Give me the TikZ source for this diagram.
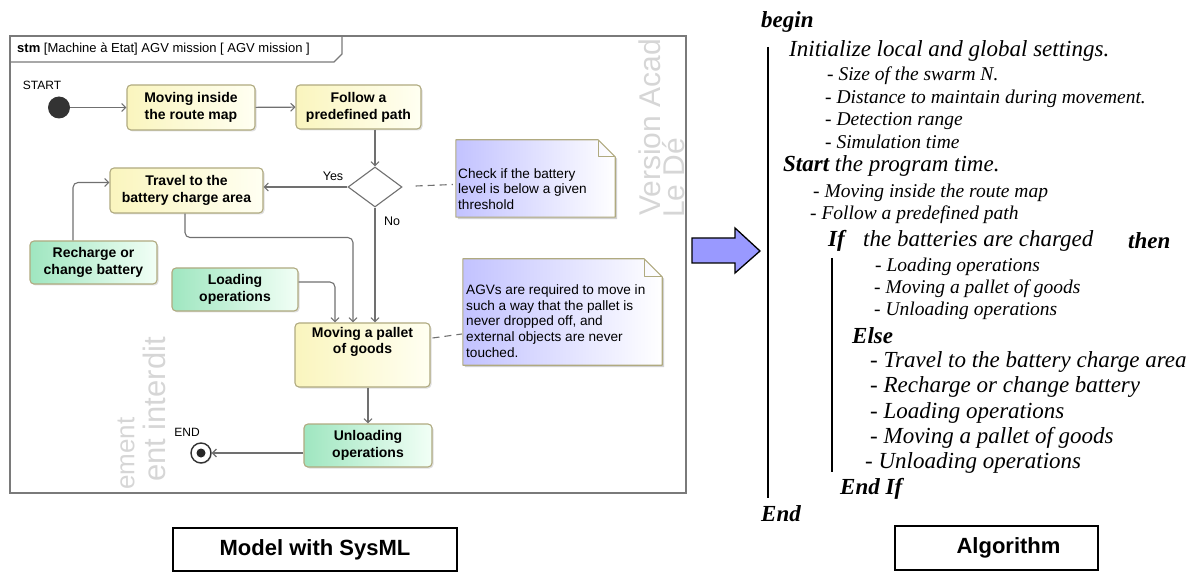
\documentclass[tikz,border=0pt]{standalone}
\usepackage{fontspec}
\setmainfont{Liberation Serif}
\newfontfamily\arial{Liberation Sans}
\usetikzlibrary{shapes.geometric,arrows.meta,calc,shadows}
\definecolor{yfillL}{HTML}{FAF5BE}
\definecolor{yfillR}{HTML}{FFFFF2}
\definecolor{gfillL}{HTML}{9FE6C0}
\definecolor{gfillR}{HTML}{F2FFF6}
\definecolor{nfillL}{HTML}{C2C2FF}
\definecolor{nfillR}{HTML}{FFFFFF}
\definecolor{bord}{HTML}{B0AA80}
\definecolor{conn}{HTML}{707070}
\definecolor{wmark}{HTML}{D6D6D6}
\definecolor{arrfill}{HTML}{9999FF}
\definecolor{framec}{HTML}{7A7A7A}
\begin{document}
\begin{tikzpicture}[x=1pt,y=-1pt,
 statebox/.style={draw=bord, line width=1.1pt, rounded corners=4pt, align=center, inner sep=0pt,
   font=\arial\bfseries\fontsize{14}{17}\selectfont,
   drop shadow={shadow xshift=1.5pt,shadow yshift=-1.5pt,opacity=0.25}},
 ybox/.style={statebox, left color=yfillL, right color=yfillR},
 gbox/.style={statebox, left color=gfillL, right color=gfillR},
 conn/.style={draw=conn, line width=1.1pt, rounded corners=5pt, -{Straight Barb[length=4pt,width=8pt]}},
 notel/.style={draw=conn, line width=1.1pt, dash pattern=on 7pt off 5pt},
 notetxt/.style={anchor=west, align=left, inner sep=0pt, font=\arial\fontsize{13.6}{15.8}\selectfont},
 lbl/.style={inner sep=0pt, font=\arial\fontsize{12.5}{14}\selectfont},
 wm/.style={inner sep=0pt, rotate=90, text=wmark, font=\arial\fontsize{30}{32}\selectfont},
 alg/.style={anchor=west, inner sep=0pt, font=\itshape\fontsize{23}{26}\selectfont},
 algs/.style={anchor=west, inner sep=0pt, font=\itshape\fontsize{19.5}{22}\selectfont},
 algb/.style={anchor=west, inner sep=0pt, font=\bfseries\itshape\fontsize{23}{26}\selectfont},
 capbox/.style={draw=black, line width=1.2pt, inner sep=0pt, font=\arial\bfseries\fontsize{22}{24}\selectfont}
]
\useasboundingbox (0,0) rectangle (1195,572);

% ---------- watermark (visible parts only) ----------
\node[wm, anchor=west] (wm1) at (650,216) {Version Acad};
\node[wm, anchor=west] (wm2) at (674,218) {Le Dé};
\node[wm, anchor=west, font=\arial\fontsize{26}{28}\selectfont] (wm3) at (126,490) {ement};
\node[wm, anchor=east, font=\arial\fontsize{31}{33}\selectfont] (wm4) at (154,337) {ent interdit};

% ---------- frame ----------
\draw[draw=framec, line width=1.3pt] (10,36) rectangle (686,493);
\draw[draw=framec, line width=1.1pt] (10,62) -- (334,62) -- (342,54) -- (342,36);
\node[anchor=west, inner sep=0pt, font=\arial\fontsize{13}{15}\selectfont] (title) at (17,49)
  {{\bfseries stm} [Machine à Etat] AGV mission [ AGV mission ]};

% ---------- states ----------
\node[circle, fill=black!80, minimum size=22pt, inner sep=0pt] (start) at (59,107.5) {};
\node[lbl, font=\arial\fontsize{12}{14}\selectfont] (startl) at (42,85) {START};

\node[ybox, minimum width=128pt, minimum height=45pt] (mov) at (191,107.5) {Moving inside\\the route map};
\node[ybox, minimum width=125pt, minimum height=44pt] (fol) at (358.5,107) {Follow a\\predefined path};
\node[diamond, draw=conn, line width=1.1pt, fill=white, minimum width=54pt, minimum height=40pt, inner sep=0pt] (dia) at (375,187) {};
\node[ybox, minimum width=153pt, minimum height=45pt] (tra) at (186.5,190.5) {Travel to the\\battery charge area};
\node[gbox, minimum width=127pt, minimum height=43pt] (rec) at (93.5,262.5) {Recharge or\\change battery};
\node[gbox, minimum width=126pt, minimum height=43pt] (loa) at (235,289.5) {Loading\\operations};
\node[ybox, minimum width=135pt, minimum height=64pt,
  label={[anchor=north, yshift=-5pt, align=center, inner sep=0pt, font=\arial\bfseries\fontsize{14}{16}\selectfont]north:Moving a pallet\\of goods}] (pal) at (362.5,355) {};
\node[gbox, minimum width=128pt, minimum height=43pt] (unl) at (368,445.5) {Unloading\\operations};
\node[circle, draw=black!80, line width=1.4pt, fill=white, minimum size=20pt, inner sep=0pt,
  drop shadow={shadow xshift=1pt,shadow yshift=-1pt,opacity=0.25}] (end) at (201,453) {};
\node[circle, fill=black!85, minimum size=9pt, inner sep=0pt] (endin) at (end) {};
\node[lbl, font=\arial\fontsize{12}{14}\selectfont] (endl) at (187,432) {END};

% ---------- notes ----------
\node[minimum width=159pt, minimum height=77pt, inner sep=0pt] (n1) at (535.5,178.5) {};
\node[minimum width=199pt, minimum height=106pt, inner sep=0pt] (n2) at (562.5,312) {};
\foreach \n/\f in {n1/17,n2/18}{
  \fill[black, opacity=0.18] ($(\n.north west)+(2,2)$) -- ($(\n.north east)+(2-\f,2)$) -- ($(\n.north east)+(2,2+\f)$) -- ($(\n.south east)+(2,2)$) -- ($(\n.south west)+(2,2)$) -- cycle;
  \shade[left color=nfillL, right color=nfillR] (\n.north west) -- ($(\n.north east)+(-\f,0)$) -- ($(\n.north east)+(0,\f)$) -- (\n.south east) -- (\n.south west) -- cycle;
  \draw[draw=bord, line width=1.1pt, line join=round] (\n.north west) -- ($(\n.north east)+(-\f,0)$) -- ($(\n.north east)+(0,\f)$) -- (\n.south east) -- (\n.south west) -- cycle;
  \draw[draw=bord, line width=1.1pt, line join=round] ($(\n.north east)+(-\f,0)$) -- ($(\n.north east)+(-\f,\f)$) -- ($(\n.north east)+(0,\f)$);
}
\node[notetxt] (n1t) at (458,189) {Check if the battery\\level is below a given\\threshold};
\node[notetxt] (n2t) at (466,321) {AGVs are required to move in\\such a way that the pallet is\\never dropped off, and\\external objects are never\\touched.};

% ---------- connectors ----------
\draw[conn] (start) -- (mov);
\draw[conn] (mov) -- (fol);
\draw[conn] (fol.south -| dia.north) -- (dia.north);
\draw[conn] (dia.west) -- (dia.west -| tra.east);
\node[lbl, anchor=south] (yes) at (333,181) {Yes};
\draw[conn] (dia.south) -- (dia.south |- pal.north);
\node[lbl, anchor=west] (no) at (384,221) {No};
\draw[conn] ($(rec.north)+(-20.5,0)$) |- ($(tra.west)+(0,-8)$);
\draw[conn] ($(tra.south)+(-1.5,0)$) -- ++(0,24) -| ($(pal.north)+(-9.5,0)$);
\draw[conn] ($(loa.east)+(0,-7.5)$) -| ($(pal.north)+(-27.5,0)$);
\draw[conn] (pal.south -| unl.north) -- (unl.north);
\draw[conn] (unl.west |- end.east) -- (end.east);
\draw[notel] ($(dia.east)+(13,-1)$) -- ($(n1.west)+(-3,6)$);
\draw[notel] ($(pal.east)+(2,-17)$) -- ($(n2.west)+(-1,22)$);

\node[capbox, minimum width=284pt, minimum height=43pt] (capL) at (315,549.5) {Model with SysML};

% ---------- big arrow ----------
\draw[line width=1.3pt, fill=arrfill, line join=miter] (692,238) -- (735,238) -- (735,228) -- (760,251) -- (735,273) -- (735,263) -- (692,263) -- cycle;

% ---------- algorithm ----------
\coordinate (v1a) at (768,47); \coordinate (v1b) at (768,498);
\coordinate (v2a) at (832,258); \coordinate (v2b) at (832,472);
\draw[line width=1.3pt] (v1a) -- (v1b);
\draw[line width=1.3pt] (v2a) -- (v2b);
\node[algb] (a1) at (761,22) {begin};
\node[alg] (a2) at (789,51) {Initialize local and global settings.};
\node[algs] (a3) at (827,76) {- Size of the swarm N.};
\node[algs] (a4) at (825,99) {- Distance to maintain during movement.};
\node[algs] (a5) at (825,121) {- Detection range};
\node[algs] (a6) at (825,142) {- Simulation time};
\node[alg] (a7) at (783,166) {{\bfseries Start} the program time.};
\node[algs] (a8) at (813,193) {- Moving inside the route map};
\node[algs] (a9) at (810,215) {- Follow a predefined path};
\node[algb] (a10) at (828,241) {If};
\node[alg] (a11) at (863,241) {the batteries are charged};
\node[algb] (a12) at (1128,241) {then};
\node[algs] (a13) at (875,267) {- Loading operations};
\node[algs] (a14) at (874,289) {- Moving a pallet of goods};
\node[algs] (a15) at (874,311) {- Unloading operations};
\node[algb] (a16) at (852,336) {Else};
\node[alg] (a17) at (870,362) {- Travel to the battery charge area};
\node[alg] (a18) at (870,387) {- Recharge or change battery};
\node[alg] (a19) at (870,413) {- Loading operations};
\node[alg] (a20) at (870,438) {- Moving a pallet of goods};
\node[alg] (a21) at (865,463) {- Unloading operations};
\node[algb] (a22) at (840,489) {End If};
\node[algb] (a23) at (761,514) {End};

\node[capbox, minimum width=203pt, minimum height=44pt] (capR) at (996.5,548) {\hspace*{24pt}Algorithm};
\end{tikzpicture}
\end{document}
